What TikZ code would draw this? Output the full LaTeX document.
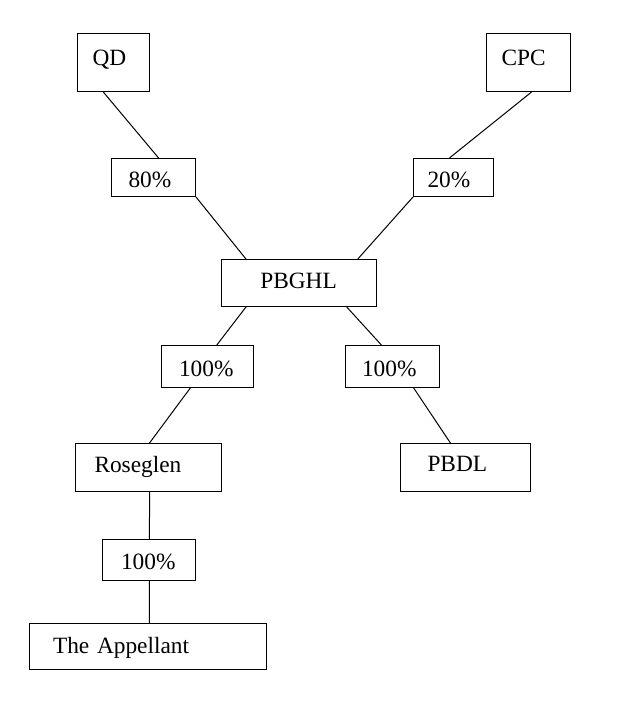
\documentclass[tikz,border=0pt]{standalone}
\usepackage{fontspec}
\setmainfont{Liberation Serif}
\usetikzlibrary{calc}
\tikzset{
  box/.style={draw,line width=0.75pt,inner ysep=0pt,anchor=north west,align=left,
    text height=11.5pt,text depth=0pt,font=\fontsize{17.5}{20}\selectfont},
}
\begin{document}
\begin{tikzpicture}[x=0.75pt,y=-0.75pt,line width=0.75pt]
\useasboundingbox (0,0) rectangle (617,702);
% owners
\node[box,minimum height=43.5pt,inner xsep=11.25pt,text width=31.5pt,text depth=7.5pt] (qd) at (77,33) {QD};
\node[box,minimum height=43.5pt,inner xsep=11.25pt,text width=40.5pt,text depth=7.5pt] (cpc) at (486,33) {CPC};
% shares
\node[box,minimum height=28.5pt,inner xsep=12.75pt,text width=37.5pt,text height=15.5pt] (p80) at (111,158) {80\%};
\node[box,minimum height=28.5pt,inner xsep=10.5pt,text width=39pt,text height=15.5pt] (p20) at (413,158) {20\%};
\node[box,minimum height=35.25pt,inner xsep=29.125pt,text width=58pt,text depth=3pt] (pbghl) at (221,259) {PBGHL};
\node[box,minimum height=31.5pt,inner xsep=13.125pt,text width=42.75pt,text height=14.5pt] (pl) at (161,345) {100\%};
\node[box,minimum height=31.5pt,inner xsep=12.375pt,text width=45.75pt,text height=14.5pt] (pr) at (345,345) {100\%};
% subsidiaries
\node[box,minimum height=36pt,inner xsep=14.25pt,text width=81pt,text depth=4.5pt] (rose) at (75,443) {Roseglen};
\node[box,minimum height=36pt,inner xsep=20.25pt,text width=57pt,text depth=6pt] (pbdl) at (400,443) {PBDL};
\node[box,minimum height=30.75pt,inner xsep=13.875pt,text width=42pt,text height=13.75pt] (pb) at (102,539) {100\%};
\node[box,minimum height=34.5pt,inner xsep=17.625pt,text width=142.5pt,text depth=1.5pt] (app) at (29,623) {The Appellant};
% links, bottom of one box to top of the next
\foreach \a/\fa/\b/\fb in {qd/0.36/p80/0.56, p80/1/pbghl/0.16, cpc/0.536/p20/0.45,
    p20/0/pbghl/0.877, pbghl/0.16/pl/0.6, pl/0.315/rose/0.507, pbghl/0.806/pr/0.383,
    pr/0.723/pbdl/0.385, rose/0.507/pb/0.505, pb/0.505/app/0.506}{
  \draw ($(\a.south west)!\fa!(\a.south east)$) -- ($(\b.north west)!\fb!(\b.north east)$);
}
\end{tikzpicture}
\end{document}
